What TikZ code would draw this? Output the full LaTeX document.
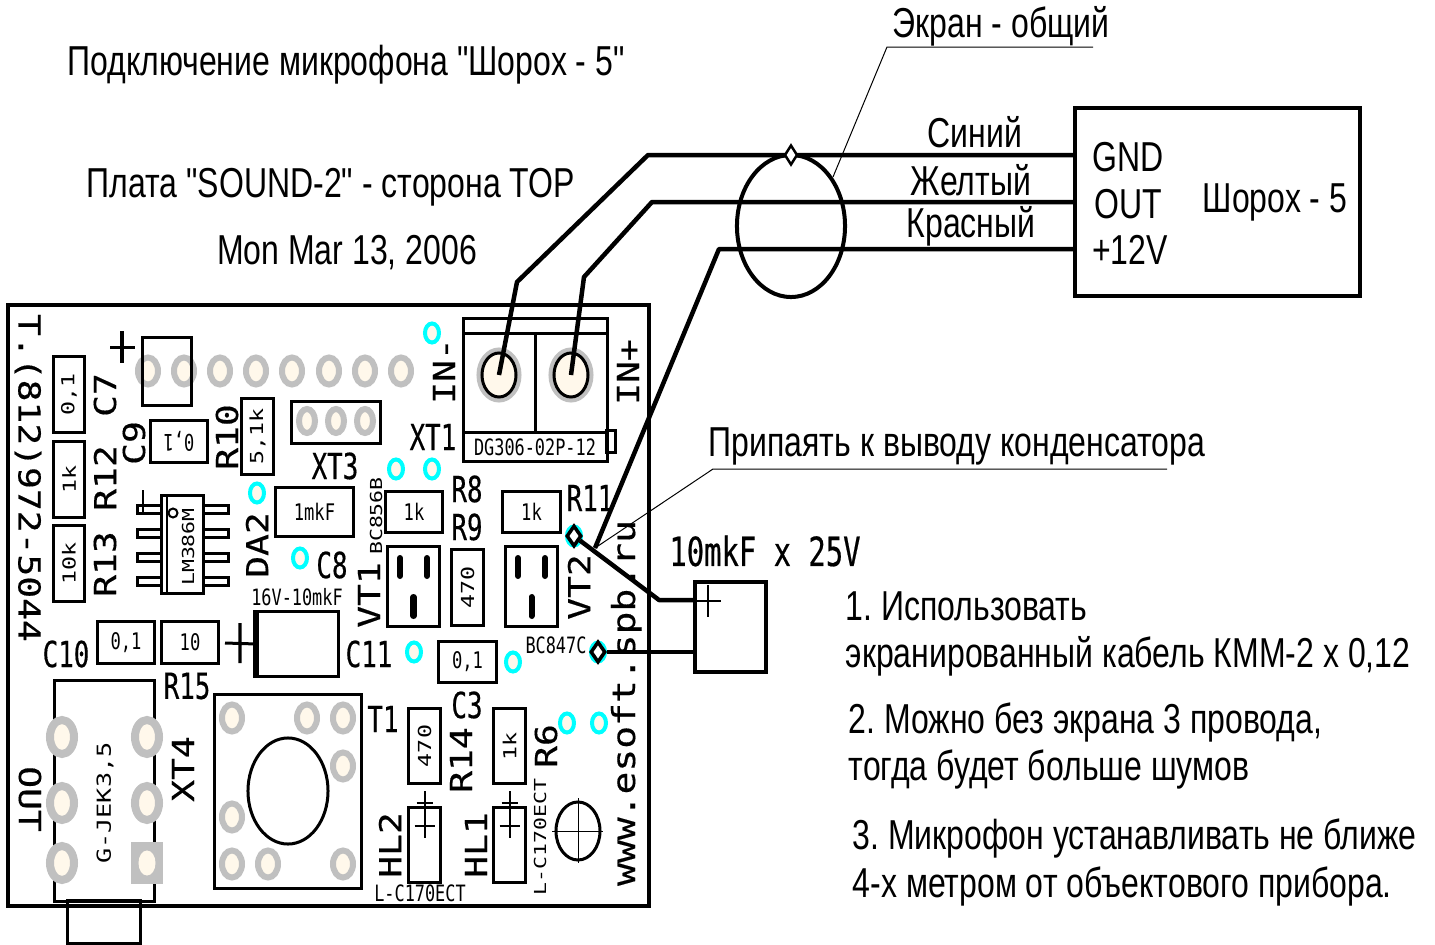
\documentclass[tikz,border=0pt]{standalone}
\usepackage{fontspec}
\setmainfont{Liberation Sans}
\newfontfamily\capfont[FakeStretch=0.765]{Liberation Sans}
\newfontfamily\pcbtall[FakeStretch=0.72,FakeBold=0.4]{DejaVu Sans Mono}
\newfontfamily\pcbwide[FakeStretch=1.2,FakeBold=0.4]{DejaVu Sans Mono}
\newfontfamily\pcbsmall[FakeStretch=0.75]{DejaVu Sans Mono}
\newfontfamily\pcbthin[FakeStretch=1.3]{DejaVu Sans Mono}
\usetikzlibrary{shapes.geometric}
\definecolor{padgray}{RGB}{192, 192, 192}
\definecolor{padhole}{RGB}{255, 248, 235}
\definecolor{padcyan}{RGB}{0, 255, 255}
\tikzset{
  caption/.style={inner sep=0pt, yshift=-0.03cm, font=\capfont\frenchspacing\fontsize{11.9pt}{14pt}\selectfont},
  partbox/.style={draw, line width=0.03cm, inner sep=0pt},
  refh/.style={inner sep=0pt, font=\pcbtall\fontsize{10.2pt}{12pt}\selectfont},
  refv/.style={inner sep=0pt, rotate=90, font=\pcbwide\fontsize{8.6pt}{10pt}\selectfont},
  valh/.style={font=\pcbsmall\fontsize{6.5pt}{8pt}\selectfont},
  valv/.style={rotate=90, font=\pcbthin\fontsize{5.1pt}{6pt}\selectfont},
  tinyh/.style={inner sep=0pt, font=\pcbsmall\fontsize{6.4pt}{8pt}\selectfont},
  tinyv/.style={inner sep=0pt, rotate=90, font=\pcbthin\fontsize{4.7pt}{6pt}\selectfont},
  pad/.style={ellipse, draw=padgray, fill=padhole, line width=0.06cm, inner sep=0pt, minimum width=0.20cm, minimum height=0.27cm},
  viapad/.style={ellipse, draw=padcyan, fill=padhole, line width=0.04cm, inner sep=0pt, minimum width=0.14cm, minimum height=0.19cm},
  jackpad/.style={ellipse, draw=padgray, fill=padhole, line width=0.08cm, inner sep=0pt, minimum width=0.24cm, minimum height=0.34cm},
  wire/.style={line width=0.045cm, line join=round},
  thinlead/.style={line width=0.01cm},
  contact/.style={diamond, draw, fill=white, line width=0.035cm, inner sep=0pt, minimum width=0.15cm, minimum height=0.21cm},
  slot/.style={line width=0.06cm, line cap=round}
}

\begin{document}
\begin{tikzpicture}[x=0.01cm, y=-0.01cm]
  \useasboundingbox (0, 0) rectangle (1435, 945);

  % Board and jack
  \node[partbox, minimum width=0.72cm, minimum height=0.42cm] (jacktab) at (104, 922) {};
  \node[draw, line width=0.04cm, minimum width=6.40cm, minimum height=6.01cm] (board) at (328.5, 605.5) {};
  \node[partbox, minimum width=0.99cm, minimum height=2.20cm] (jack) at (104.5, 791) {};
  \foreach \y [count=\i] in {737, 803, 863} {
    \node[jackpad] (jackl\i) at (62, \y) {};
  }
  \foreach \y [count=\i] in {737, 803} {
    \node[jackpad] (jackr\i) at (147, \y) {};
  }
  \node[rectangle, fill=padgray, minimum width=0.32cm, minimum height=0.42cm] (jackr3) at (147, 863) {};
  \node[ellipse, fill=padhole, inner sep=0pt, minimum width=0.17cm, minimum height=0.25cm] (jackr3hole) at (147, 863) {};

  % Pad row and sockets
  \foreach \x [count=\i] in {148, 184, 220, 256, 292, 329, 365, 401} {
    \node[pad] (row\i) at (\x, 371) {};
  }
  \node[partbox, minimum width=0.48cm, minimum height=0.67cm] (c7box) at (167, 371.5) {};
  \node[partbox, minimum width=0.88cm, minimum height=0.41cm] (xt3box) at (336, 422.5) {};
  \foreach \x [count=\i] in {307, 336, 365} {
    \node[pad, minimum width=0.16cm, minimum height=0.24cm] (xt3pad\i) at (\x, 421) {};
  }
  \draw[line width=0.03cm] (122, 331) -- (122, 363) (110, 347) -- (135, 347);

  % Via pads
  \foreach \x/\y [count=\i] in {257/493, 300/558, 432/333, 396/469, 432/469, 414/652, 513/662, 567/723, 599/723, 574/536, 598/652} {
    \node[viapad] (via\i) at (\x, \y) {};
  }

  % Resistors and capacitors
  \node[partbox, valv, minimum width=0.75cm, minimum height=0.30cm] (c7) at (69, 394.5) {0,1};
  \node[partbox, valv, minimum width=0.75cm, minimum height=0.30cm] (r12) at (69, 479.5) {1k};
  \node[partbox, valv, minimum width=0.75cm, minimum height=0.30cm] (r13) at (69, 563.5) {10k};
  \node[partbox, valv, minimum width=0.75cm, minimum height=0.31cm] (r10) at (257.5, 436.5) {5,1k};
  \node[partbox, valv, minimum width=0.75cm, minimum height=0.31cm] (r9) at (467.5, 587.5) {470};
  \node[partbox, valv, minimum width=0.74cm, minimum height=0.31cm] (r14) at (424.5, 746) {470};
  \node[partbox, valv, minimum width=0.74cm, minimum height=0.31cm] (r6) at (509.5, 746) {1k};
  \node[partbox, valh, rotate=180, minimum width=0.56cm, minimum height=0.41cm] (c9) at (179, 441.5) {0,1};
  \node[partbox, valh, minimum width=0.77cm, minimum height=0.48cm] (c1mk) at (314.5, 512) {1mkF};
  \node[partbox, valh, minimum width=0.56cm, minimum height=0.40cm] (r8) at (414, 512) {1k};
  \node[partbox, valh, minimum width=0.57cm, minimum height=0.40cm] (r11) at (531.5, 512) {1k};
  \node[partbox, valh, minimum width=0.56cm, minimum height=0.41cm] (c10) at (126, 642.5) {0,1};
  \node[partbox, valh, minimum width=0.56cm, minimum height=0.41cm] (r15) at (190, 642.5) {10};
  \node[partbox, valh, minimum width=0.57cm, minimum height=0.40cm] (c3) at (467.5, 662) {0,1};

  % Big capacitor
  \node[partbox, minimum width=0.80cm, minimum height=0.64cm] (c11box) at (298, 644) {};
  \draw[line width=0.06cm] (c11box.north west) -- (c11box.south west);
  \draw[line width=0.03cm] (240, 623) -- (240, 663) (225, 643) -- (c11box.west);

  % LM386
  \foreach \y [count=\i] in {509, 533, 557, 581} {
    \node[partbox, minimum width=0.24cm, minimum height=0.08cm] (pinl\i) at (150, \y) {};
    \node[partbox, minimum width=0.25cm, minimum height=0.08cm] (pinr\i) at (215.5, \y) {};
  }
  \node[partbox, fill=white, minimum width=0.41cm, minimum height=0.97cm] (lm386) at (182.5, 544.5) {};
  \draw[line width=0.02cm] (167, 496) -- (167, 593);
  \node[circle, draw, line width=0.02cm, inner sep=0pt, minimum size=0.09cm] (lmkey) at (173, 513) {};
  \draw[line width=0.02cm] (143, 490) -- (143, 512);

  % Transistors
  \node[partbox, minimum width=0.51cm, minimum height=0.79cm] (vt1box) at (413.5, 586.5) {};
  \node[partbox, minimum width=0.51cm, minimum height=0.79cm] (vt2box) at (531.5, 586.5) {};
  \draw[slot] (400, 558) -- (400, 576) (427, 558) -- (427, 576) (413.5, 597) -- (413.5, 616);
  \draw[slot] (518, 558) -- (518, 576) (545, 558) -- (545, 576) (531.5, 597) -- (531.5, 616);

  % Button
  \node[partbox, minimum width=1.46cm, minimum height=1.93cm] (t1box) at (288, 791.5) {};
  \node[ellipse, draw, line width=0.03cm, inner sep=0pt, minimum width=0.80cm, minimum height=1.06cm] (t1cap) at (288, 791) {};
  \foreach \x/\y [count=\i] in {232/718, 307/718, 343/718, 343/766, 232/817, 232/864, 268/864, 343/864} {
    \node[pad] (t1pad\i) at (\x, \y) {};
  }

  % LEDs and mounting hole
  \foreach \x/\n in {424.5/hl2, 509.5/hl1} {
    \node[partbox, minimum width=0.31cm, minimum height=0.74cm] (\n) at (\x, 845) {};
    \draw[line width=0.02cm] (\x, 791) -- (\x, 838) (\x-8, 803) -- (\x+8, 803) (\x-10, 826) -- (\x+10, 826);
  }
  \node[ellipse, draw, line width=0.03cm, inner sep=0pt, minimum width=0.44cm, minimum height=0.58cm] (hole) at (578, 831) {};
  \draw[thinlead] (552, 831) -- (603, 831) (578, 798) -- (578, 863);

  % Terminal block
  \node[partbox, minimum width=1.43cm, minimum height=1.42cm] (term) at (535.5, 390) {};
  \draw[line width=0.03cm] (464, 333) -- (607, 333) (464, 432) -- (607, 432) (535, 333) -- (535, 432);
  \node[partbox, minimum width=0.08cm, minimum height=0.21cm] (termtab) at (611, 441.5) {};
  \node[tinyh] (termlabel) at (535, 447) {DG306-02P-12};
  \node[ellipse, draw=padgray, line width=0.07cm, inner sep=0pt, minimum width=0.38cm, minimum height=0.48cm] (ringminus) at (499, 375) {};
  \node[ellipse, draw=padgray, line width=0.07cm, inner sep=0pt, minimum width=0.38cm, minimum height=0.48cm] (ringplus) at (571, 375) {};
  \node[ellipse, draw, fill=padhole, line width=0.03cm, inner sep=0pt, minimum width=0.34cm, minimum height=0.44cm] (padminus) at (499, 375) {};
  \node[ellipse, draw, fill=padhole, line width=0.03cm, inner sep=0pt, minimum width=0.34cm, minimum height=0.44cm] (padplus) at (571, 375) {};

  % Part references
  \node[refv, rotate=-180] (phone) at (28, 478) {Т.(812)972-5044};
  \node[refv, rotate=-180] (outlabel) at (30, 799) {OUT};
  \node[refv] (c7label) at (105, 395) {C7};
  \node[refv] (r12label) at (105, 478) {R12};
  \node[refv] (r13label) at (105, 564) {R13};
  \node[refv] (c9label) at (134, 443) {C9};
  \node[refv] (r10label) at (227, 437) {R10};
  \node[refv] (da2label) at (257, 545) {DA2};
  \node[refv] (inminus) at (444, 371) {IN-};
  \node[refv] (inplus) at (628, 372) {IN+};
  \node[refv] (vt1label) at (369, 595) {VT1};
  \node[refv] (vt2label) at (579, 587) {VT2};
  \node[refv] (xt4label) at (183, 769) {XT4};
  \node[refv] (r14label) at (461, 760) {R14};
  \node[refv] (r6label) at (546, 746) {R6};
  \node[refv] (hl2label) at (390, 845) {HL2};
  \node[refv] (hl1label) at (476, 845) {HL1};
  \node[refv, anchor=base, font=\pcbwide\fontsize{9pt}{10pt}\selectfont] (sitelabel) at (635, 703) {www.esoft.spb.ru};

  \node[refh] (xt1label) at (433, 437) {XT1};
  \node[refh] (xt3label) at (335, 466) {XT3};
  \node[refh] (t1label) at (383, 719) {T1};
  \node[refh] (r8label) at (467, 489) {R8};
  \node[refh] (r9label) at (467, 527) {R9};
  \node[refh] (r11label) at (590, 498) {R11};
  \node[refh] (c8label) at (332, 565) {C8};
  \node[refh] (c10label) at (66, 654) {C10};
  \node[refh] (c11label) at (369, 654) {C11};
  \node[refh] (r15label) at (187, 686) {R15};
  \node[refh] (c3label) at (467, 705) {C3};

  \node[tinyh] (c11value) at (297, 597) {16V-10mkF};
  \node[tinyh] (vt2type) at (556, 645) {BC847C};
  \node[tinyh] (hl2type) at (420, 893) {L-C170ECT};
  \node[tinyv] (vt1type) at (376, 516) {BC856B};
  \node[tinyv] (hl1type) at (540, 837) {L-C170ECT};
  \node[tinyv] (lmlabel) at (188, 547) {LM386M};
  \node[tinyv, font=\pcbthin\fontsize{5.5pt}{6pt}\selectfont] (jacklabel) at (105, 803) {G-JEK3,5};

  % Captions
  \node[caption] (title) at (346, 62) {Подключение микрофона "Шорох - 5"};
  \node[caption] (boardname) at (331, 184) {Плата "SOUND-2" - сторона TOP};
  \node[caption] (datelabel) at (347, 250) {Mon Mar 13, 2006};
  \node[caption] (shieldlabel) at (1001, 23) {Экран - общий};
  \node[caption] (solderlabel) at (957, 443) {Припаять к выводу конденсатора};

  % Sensor box
  \node[draw, line width=0.04cm, minimum width=2.85cm, minimum height=1.88cm] (sensor) at (1217.5, 202) {};
  \node[caption] (gndlabel) at (1128, 154) {GND};
  \node[caption] (outpin) at (1128, 201) {OUT};
  \node[caption] (pwrlabel) at (1130, 247) {+12V};
  \node[caption] (sensorname) at (1275, 199) {Шорох - 5};
  \coordinate (gndpin) at (1075, 155);
  \coordinate (outend) at (1075, 202);
  \coordinate (pwrpin) at (1075, 249);

  % Wires
  \coordinate (bendgndlow) at (517, 282);
  \coordinate (bendgnd) at (648, 155);
  \coordinate (bendoutlow) at (584, 277);
  \coordinate (bendout) at (652, 202);
  \coordinate (bendpwr) at (719, 249);
  \coordinate (redjoin) at (595, 548);
  \coordinate (bendcap) at (659, 600);
  \coordinate (capplus) at (695, 600);
  \coordinate (capminus) at (695, 652);
  \node[contact] (contactplus) at (574, 536) {};
  \node[contact] (contactminus) at (598, 652) {};
  \draw[wire] (padminus.center) -- (bendgndlow) -- (bendgnd) -- (gndpin);
  \draw[wire] (padplus.center) -- (bendoutlow) -- (bendout) -- (outend);
  \draw[wire] (redjoin) -- (bendpwr) -- (pwrpin);
  \draw[wire] (contactplus) -- (bendcap) -- (capplus);
  \draw[wire] (contactminus) -- (capminus);
  \coordinate (solderelbow) at (713, 469);
  \coordinate (solderend) at (1167, 469);
  \draw[thinlead] (redjoin) -- (solderelbow) -- (solderend);

  % Shield
  \node[ellipse, draw, line width=0.04cm, inner sep=0pt, minimum width=1.08cm, minimum height=1.42cm] (shield) at (791, 226) {};
  \node[contact, line width=0.025cm, minimum width=0.13cm, minimum height=0.20cm] (shieldtop) at (791, 155) {};
  \coordinate (shieldelbow) at (887, 47);
  \coordinate (shieldend) at (1093, 47);
  \coordinate (shieldtouch) at (833, 177);
  \draw[thinlead] (shieldtouch) -- (shieldelbow) -- (shieldend);
  \node[caption] (bluelabel) at (975, 129) {Синий};
  \node[caption] (yellowlabel) at (971, 177) {Желтый};
  \node[caption] (redlabel) at (971, 223) {Красный};

  % Output capacitor
  \node[draw, line width=0.04cm, minimum width=0.71cm, minimum height=0.90cm] (capbox) at (730.5, 627) {};
  \draw[line width=0.02cm] (695, 601) -- (721, 601) (708, 585) -- (708, 617);
  \node[refh, font=\pcbtall\fontsize{11.4pt}{13pt}\selectfont] (capvalue) at (765, 551) {10mkF x 25V};

  % Notes
  \node[caption, anchor=west] (note1a) at (845, 603) {1. Использовать};
  \node[caption, anchor=west] (note1b) at (845, 653) {экранированный кабель КММ-2 х 0,12};
  \node[caption, anchor=west] (note2a) at (848, 719) {2. Можно без экрана 3 провода,};
  \node[caption, anchor=west] (note2b) at (848, 766) {тогда будет больше шумов};
  \node[caption, anchor=west] (note3a) at (852, 835) {3. Микрофон устанавливать не ближе};
  \node[caption, anchor=west] (note3b) at (852, 883) {4-х метром от объектового прибора.};
\end{tikzpicture}
\end{document}
